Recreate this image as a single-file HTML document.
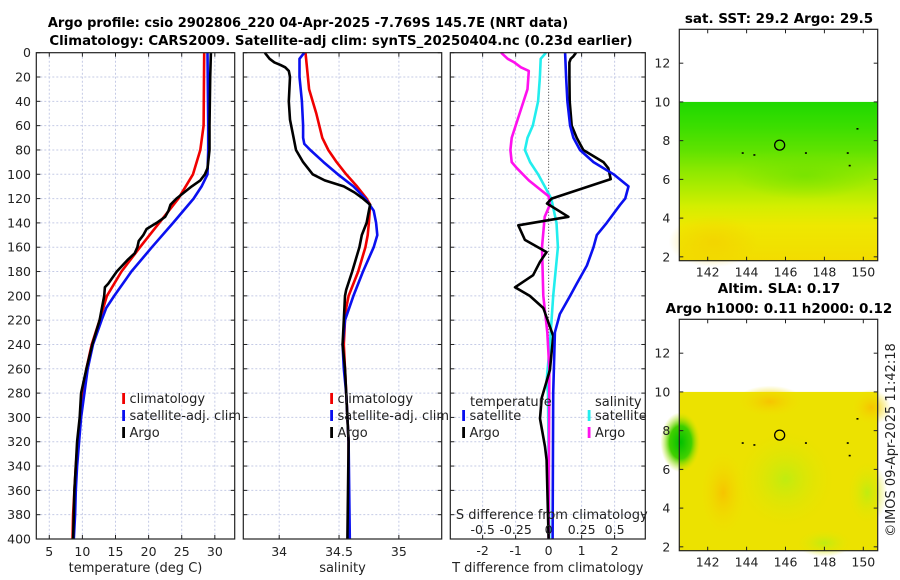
<!DOCTYPE html>
<html><head><meta charset="utf-8"><style>
html,body{margin:0;padding:0;background:#fff;}
svg{display:block;font-family:"DejaVu Sans","Liberation Sans",sans-serif;}
</style></head><body>
<svg id="fig" width="900" height="580" viewBox="0 0 900 580" xmlns="http://www.w3.org/2000/svg">
<defs>
<linearGradient id="sstGrad" x1="0" y1="0" x2="0" y2="1">
<stop offset="0" stop-color="#1fd800"/><stop offset="0.15" stop-color="#3ade00"/>
<stop offset="0.3" stop-color="#5ee200"/><stop offset="0.42" stop-color="#88e800"/>
<stop offset="0.55" stop-color="#b0ec00"/><stop offset="0.66" stop-color="#d4ee00"/>
<stop offset="0.78" stop-color="#eee800"/><stop offset="1" stop-color="#f2dc00"/>
</linearGradient>
<radialGradient id="greenPatch" cx="0.5" cy="0.5" r="0.5">
<stop offset="0" stop-color="#00c000"/><stop offset="0.55" stop-color="#40d000"/><stop offset="1" stop-color="#c8e400" stop-opacity="0"/>
</radialGradient>
<radialGradient id="orangePatch" cx="0.5" cy="0.5" r="0.5">
<stop offset="0" stop-color="#f6c400"/><stop offset="1" stop-color="#f0e000" stop-opacity="0"/>
</radialGradient>
<radialGradient id="limePatch" cx="0.5" cy="0.5" r="0.5">
<stop offset="0" stop-color="#c0ec10"/><stop offset="1" stop-color="#e8e400" stop-opacity="0"/>
</radialGradient>
<radialGradient id="sstPatch" cx="0.5" cy="0.5" r="0.5">
<stop offset="0" stop-color="#5ede00" stop-opacity="0.5"/><stop offset="1" stop-color="#5ede00" stop-opacity="0"/>
</radialGradient>
<radialGradient id="sstOrange" cx="0.5" cy="0.5" r="0.5">
<stop offset="0" stop-color="#f4cc00" stop-opacity="0.6"/><stop offset="1" stop-color="#f4cc00" stop-opacity="0"/>
</radialGradient>
</defs>
<text x="308" y="27" text-anchor="middle" font-weight="bold" font-size="13">Argo profile: csio 2902806_220 04-Apr-2025 -7.769S 145.7E (NRT data)</text>
<text x="341" y="45" text-anchor="middle" font-weight="bold" font-size="13.3">Climatology: CARS2009. Satellite-adj clim: synTS_20250404.nc (0.23d earlier)</text>
<g id="plots"></g>
<g id="maps"></g>
<text transform="translate(895,440) rotate(-90)" text-anchor="middle" font-size="13" fill="#222">©IMOS 09-Apr-2025 11:42:18</text>
</svg>
<script>
// ---- Data ----
const depthTicks = [0,20,40,60,80,100,120,140,160,180,200,220,240,260,280,300,320,340,360,380,400];
const tempTicks = [5,10,15,20,25,30];
const salTicks = [34,34.5,35];
const tdTicks = [-2,-1,0,1,2];
const sdTickLabels = ["-0.5","-0.25","0","0.25","0.5"];
const sdTicks = [-0.5,-0.25,0,0.25,0.5];

const tClimDepth = [0,60,80,100,120,140,160,180,200,220,240,260,280,300,320,340,360,380,400];
const tClimVal   = [28.4,28.3,27.8,26.7,24.5,21.6,18.7,15.9,13.7,12.6,11.4,10.6,10.1,9.7,9.3,9.0,8.8,8.6,8.5];
const tSatDepth = [0,60,80,100,110,120,140,160,180,200,210,220,240,260,280,300,320,340,360,380,400];
const tSatVal   = [28.9,29.0,29.0,28.9,28.0,26.8,23.7,20.5,17.4,14.8,13.6,12.9,11.6,10.8,10.3,9.8,9.5,9.2,9.0,8.9,8.7];
const tArgoDepth = [0,20,60,80,95,100,105,110,120,125,130,135,140,145,150,155,160,165,170,180,190,193,200,220,240,260,280,300,320,340,360,380,400];
const tArgoVal   = [29.4,29.3,29.2,29.2,28.9,28.5,27.8,26.5,24.2,23.3,23.0,22.5,21.2,19.7,19.2,18.5,18.3,17.9,16.9,15.2,13.9,13.4,13.3,12.6,11.5,10.6,9.8,9.6,9.2,9.0,8.8,8.7,8.6];

const sClimDepth = [0,10,30,50,70,80,90,100,110,120,125,140,150,160,180,200,210,220,240,280,320,400];
const sClimVal   = [34.22,34.23,34.25,34.31,34.36,34.41,34.48,34.56,34.65,34.73,34.76,34.75,34.74,34.72,34.66,34.58,34.56,34.55,34.54,34.56,34.58,34.58];
const sSatDepth = [0,5,20,40,60,70,75,80,90,100,110,120,130,140,150,160,180,200,220,240,260,280,320,400];
const sSatVal   = [34.21,34.17,34.17,34.19,34.20,34.20,34.21,34.26,34.37,34.49,34.62,34.72,34.79,34.81,34.82,34.79,34.70,34.62,34.55,34.53,34.54,34.56,34.58,34.59];
const sArgoDepth = [0,5,8,10,12,15,20,40,55,70,80,90,100,105,110,115,120,125,130,140,150,160,180,195,200,220,240,260,280,320,400];
const sArgoVal   = [33.88,33.92,33.96,34.01,34.05,34.08,34.09,34.08,34.09,34.12,34.14,34.20,34.28,34.38,34.54,34.63,34.70,34.76,34.75,34.73,34.69,34.67,34.61,34.56,34.55,34.54,34.53,34.55,34.56,34.58,34.57];

const dtSatDepth = [0,20,40,60,70,80,90,100,110,120,125,140,150,160,175,190,200,215,230,280,400];
const dtSatVal   = [0.50,0.53,0.57,0.65,0.75,0.95,1.36,1.97,2.42,2.32,2.17,1.76,1.46,1.36,1.16,0.85,0.65,0.34,0.19,0.14,0.12];
const dtArgoDepth = [0,3,5,8,20,40,60,70,80,90,95,104,120,124,135,142,154,164,172,183,193,200,210,233,261,284,301,324,335,400];
const dtArgoVal   = [0.83,0.75,0.67,0.63,0.63,0.64,0.70,0.85,1.05,1.66,1.81,1.88,0.09,-0.05,0.60,-0.92,-0.72,-0.06,-0.26,-0.47,-1.02,-0.57,-0.16,0.14,0.04,-0.21,-0.26,-0.11,-0.06,0.0];
const dsSatDepth = [0,5,20,40,60,70,80,90,100,110,120,140,160,200,240,270,280,400];
const dsSatVal   = [-0.02,-0.06,-0.066,-0.08,-0.12,-0.16,-0.18,-0.14,-0.08,-0.03,0.02,0.06,0.07,0.035,0.01,-0.015,-0.005,0.005];
const dsArgoDepth = [0,5,8,12,15,30,50,70,80,90,95,105,112,118,125,135,160,200,230,260,400];
const dsArgoVal   = [-0.36,-0.31,-0.26,-0.21,-0.15,-0.16,-0.22,-0.28,-0.29,-0.28,-0.24,-0.15,-0.07,0.0,0.01,-0.03,-0.05,-0.04,-0.01,0.005,0.0];

const latTicks = [2,4,6,8,10,12];
const lonTicks = [142,144,146,148,150];
const argoLon = 145.7, argoLat = 7.77;

// ---- helpers ----
const NS = "http://www.w3.org/2000/svg";
function mk(tag, attrs, parent){ const e=document.createElementNS(NS,tag); for(const k in attrs) e.setAttribute(k,attrs[k]); parent.appendChild(e); return e; }
const TOP=52.7, BOT=539;
const yD = d => TOP + d*(BOT-TOP)/400;
function lin(d0,d1,r0,r1){ return v => r0 + (v-d0)*(r1-r0)/(d1-d0); }

const plots = document.getElementById('plots');
const panels = [
 {name:'temperature-panel', x0:36.3, x1:234.7, dom:[3.04,33.0], ticks:tempTicks, labels:tempTicks.map(String), xlabel:'temperature (deg C)', ylabels:true},
 {name:'salinity-panel', x0:243.3, x1:441.7, dom:[33.7,35.358], ticks:salTicks, labels:["34","34.5","35"], xlabel:'salinity'},
 {name:'difference-panel', x0:450.3, x1:645.3, dom:[-2.98,2.93], ticks:tdTicks, labels:tdTicks.map(String), xlabel:'T difference from climatology'}
];
panels.forEach((p,i)=>{
  const g = mk('g',{},plots);
  
  
  p.sx = lin(p.dom[0],p.dom[1],p.x0,p.x1);
  depthTicks.forEach(d=>{ if(d>0&&d<400) mk('line',{x1:p.x0,x2:p.x1,y1:yD(d),y2:yD(d),stroke:'#c5cbe6','stroke-width':1,'stroke-dasharray':'2,2'},g); });
  p.ticks.forEach(t=>{ const x=p.sx(t); if(i===2&&t===0) return; mk('line',{x1:x,x2:x,y1:TOP,y2:BOT,stroke:'#c5cbe6','stroke-width':1,'stroke-dasharray':'2,2'},g); });
  if(i===2) mk('line',{x1:p.sx(0),x2:p.sx(0),y1:TOP,y2:BOT,stroke:'#333','stroke-width':1,'stroke-dasharray':'1,2'},g);
  depthTicks.forEach(d=>{ mk('line',{x1:p.x0,x2:p.x0+4,y1:yD(d),y2:yD(d),stroke:'#222'},g); mk('line',{x1:p.x1-4,x2:p.x1,y1:yD(d),y2:yD(d),stroke:'#222'},g); });
  p.ticks.forEach((t,k)=>{ const x=p.sx(t); mk('line',{x1:x,x2:x,y1:BOT,y2:BOT-4,stroke:'#222'},g); mk('line',{x1:x,x2:x,y1:TOP,y2:TOP+4,stroke:'#222'},g);
    const tl=mk('text',{x:x,y:i===2?555:556,'text-anchor':'middle','font-size':12.5,fill:'#222'},g); tl.textContent=p.labels[k];
      });
  const xl=mk('text',{x:(p.x0+p.x1)/2,y:572,'text-anchor':'middle','font-size':13,fill:'#222'},g); xl.textContent=p.xlabel;
   
  if(p.ylabels){ depthTicks.forEach(d=>{ const t=mk('text',{x:31,y:yD(d)+4.5,'text-anchor':'end','font-size':12.5,fill:'#222'},g); t.textContent=d;
      }); }
  p.g=g;
});
function series(p, depths, vals, color, name, scale){
  const pts = depths.map((d,k)=>p.sx(vals[k]*(scale||1)).toFixed(1)+','+yD(d).toFixed(1)).join(' ');
  const pl = mk('polyline',{points:pts,fill:'none',stroke:color,'stroke-width':2.6,'stroke-linejoin':'round'},p.g);
  
  
}
series(panels[0], tClimDepth, tClimVal, '#f00000', 'temperature-climatology-line');
series(panels[0], tSatDepth, tSatVal, '#0a10f0', 'temperature-satellite-line');
series(panels[0], tArgoDepth, tArgoVal, '#000', 'temperature-argo-line');
series(panels[1], sClimDepth, sClimVal, '#f00000', 'salinity-climatology-line');
series(panels[1], sSatDepth, sSatVal, '#0a10f0', 'salinity-satellite-line');
series(panels[1], sArgoDepth, sArgoVal, '#000', 'salinity-argo-line');
series(panels[2], dsSatDepth, dsSatVal, '#22eeee', 'sdiff-satellite-line', 4);
series(panels[2], dsArgoDepth, dsArgoVal, '#ff10ee', 'sdiff-argo-line', 4);
series(panels[2], dtArgoDepth, dtArgoVal, '#000', 'tdiff-argo-line');
series(panels[2], dtSatDepth, dtSatVal, '#0a10f0', 'tdiff-satellite-line');
panels.forEach(p=>{ mk('rect',{x:p.x0,y:TOP,width:p.x1-p.x0,height:BOT-TOP,fill:'none',stroke:'#222','stroke-width':1.2},p.g); });
{ const p=panels[2];
  const t=mk('text',{x:(p.x0+p.x1)/2+4,y:519,'text-anchor':'middle','font-size':13,fill:'#222'},p.g); t.textContent='S difference from climatology';
   
  sdTicks.forEach((s,k)=>{ const l=mk('text',{x:p.sx(s*4),y:534,'text-anchor':'middle','font-size':12.5,fill:'#222'},p.g); l.textContent=sdTickLabels[k];
      });
}
function legend(g, mx, entries, name){
  const lg=mk('g',{},g);  
  entries.forEach(e=>{ mk('rect',{x:mx-1.3,y:e[2]-8,width:2.8,height:11,fill:e[1]},lg);
    const t=mk('text',{x:mx+6,y:e[2]+2,'font-size':13,fill:'#222'},lg); t.textContent=e[0]; });
}
legend(panels[0].g,123.5,[['climatology','#f00000',401],['satellite-adj. clim','#0a10f0',418],['Argo','#000',435]],'temperature-legend');
legend(panels[1].g,331.5,[['climatology','#f00000',401],['satellite-adj. clim','#0a10f0',418],['Argo','#000',435]],'salinity-legend');
{ const g=panels[2].g;
  const t1=mk('text',{x:470,y:406,'font-size':13,fill:'#222'},g); t1.textContent='temperature';
  const t2=mk('text',{x:595,y:406,'font-size':13,fill:'#222'},g); t2.textContent='salinity';
  legend(g,463.5,[['satellite','#0a10f0',418],['Argo','#000',435]],'tdiff-legend');
  legend(g,589,[['satellite','#22eeee',418],['Argo','#ff10ee',435]],'sdiff-legend');
}
// ---- maps ----
const maps=document.getElementById('maps');
function drawMap(name, x0,x1,y0,y1, lonDom, latDom, fillFn, title1, title2, t1y, t2y){
  const g=mk('g',{},maps);  
  const sx=lin(lonDom[0],lonDom[1],x0,x1), sy=lin(latDom[0],latDom[1],y1,y0);
  const top10=sy(10);
  fillFn(g,x0,x1,top10,y1,sx,sy);
  [[143.8,7.35],[144.4,7.25],[147.05,7.35],[149.2,7.35],[149.3,6.7],[149.7,8.6]].forEach(d=>mk('rect',{x:sx(d[0])-1,y:sy(d[1])-1,width:2,height:1.6,fill:'#000'},g));
  const c=mk('circle',{cx:sx(argoLon),cy:sy(argoLat),r:5,fill:'none',stroke:'#000','stroke-width':1.3},g);
   
  mk('rect',{x:x0,y:y0,width:x1-x0,height:y1-y0,fill:'none',stroke:'#222','stroke-width':1.2},g);
  latTicks.forEach(l=>{ const y=sy(l); mk('line',{x1:x0,x2:x0+4,y1:y,y2:y,stroke:'#222'},g); mk('line',{x1:x1-4,x2:x1,y1:y,y2:y,stroke:'#222'},g);
    const t=mk('text',{x:x0-9,y:y+4.5,'text-anchor':'end','font-size':12.5,fill:'#222'},g); t.textContent=l;
      });
  lonTicks.forEach(l=>{ const x=sx(l); mk('line',{x1:x,x2:x,y1:y1,y2:y1-4,stroke:'#222'},g); mk('line',{x1:x,x2:x,y1:y0,y2:y0+4,stroke:'#222'},g);
    const t=mk('text',{x:x,y:y1+16,'text-anchor':'middle','font-size':12.5,fill:'#222'},g); t.textContent=l;
      });
  const a=mk('text',{x:779,y:t1y,'text-anchor':'middle','font-weight':'bold','font-size':13.5},g); a.textContent=title1;
   
  if(title2){ const b=mk('text',{x:779,y:t2y,'text-anchor':'middle','font-weight':'bold','font-size':13.5},g); b.textContent=title2;
      }
}
drawMap('sst-map',679.3,877.7,29.3,260.7,[140.54,150.74],[1.8,13.75],(g,x0,x1,yt,yb,sx,sy)=>{
  const r=mk('rect',{x:x0,y:yt,width:x1-x0,height:yb-yt,fill:'url(#sstGrad)'},g);
   
  mk('ellipse',{cx:sx(147),cy:sy(6.2),rx:70,ry:24,fill:'url(#sstPatch)'},g);
  mk('ellipse',{cx:sx(142.3),cy:sy(2.8),rx:45,ry:26,fill:'url(#sstOrange)'},g);
},'sat. SST: 29.2 Argo: 29.5',null,23,0);
drawMap('sla-map',679.3,877.7,319.3,550.7,[140.54,150.74],[1.8,13.75],(g,x0,x1,yt,yb,sx,sy)=>{
  const r=mk('rect',{x:x0,y:yt,width:x1-x0,height:yb-yt,fill:'#ece200'},g);
   
  mk('ellipse',{cx:sx(142.8),cy:sy(4.8),rx:24,ry:44,fill:'url(#orangePatch)'},g);
  mk('ellipse',{cx:sx(145.2),cy:sy(9.5),rx:34,ry:16,fill:'url(#orangePatch)'},g);
  mk('ellipse',{cx:sx(150.4),cy:sy(9.2),rx:20,ry:18,fill:'url(#orangePatch)'},g);
  mk('ellipse',{cx:sx(146),cy:sy(5.5),rx:50,ry:50,fill:'url(#limePatch)'},g);
  mk('ellipse',{cx:sx(150.2),cy:sy(4.8),rx:20,ry:32,fill:'url(#limePatch)'},g);
  mk('ellipse',{cx:sx(148),cy:sy(2.2),rx:28,ry:14,fill:'url(#limePatch)'},g);
  mk('ellipse',{cx:sx(140.6),cy:sy(7.4),rx:20,ry:30,fill:'url(#greenPatch)'},g);
},'Altim. SLA: 0.17','Argo h1000: 0.11 h2000: 0.12',293,313);
</script>
</body></html>
